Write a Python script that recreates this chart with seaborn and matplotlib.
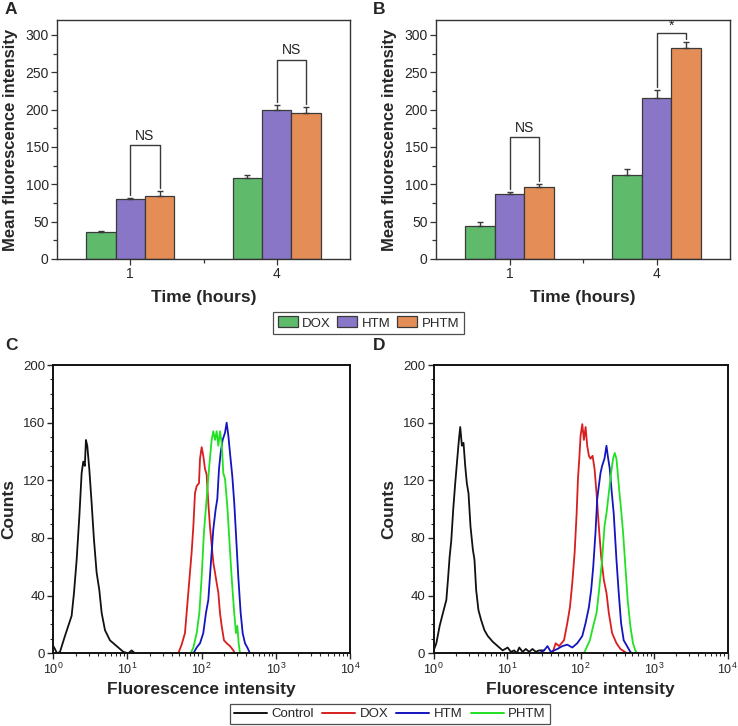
import numpy as np
import pandas as pd
import matplotlib
matplotlib.use('Agg')
import matplotlib.pyplot as plt
import seaborn as sns
from matplotlib.patches import Patch
from matplotlib.lines import Line2D
from matplotlib.ticker import MultipleLocator, FixedLocator, LogLocator, NullFormatter

# ---------------- data: bar panels ----------------
times = ['1', '4']
groups = ['DOX', 'HTM', 'PHTM']

a_dox = [36, 109]
a_htm = [80, 200]
a_phtm = [85, 195]
a_dox_err = [1.2, 4]
a_htm_err = [1.5, 6]
a_phtm_err = [6.5, 8]

b_dox = [44, 112]
b_htm = [87, 216]
b_phtm = [96, 283]
b_dox_err = [5, 9]
b_htm_err = [2.5, 10]
b_phtm_err = [4.5, 7]

a_brackets = [('HTM', '1', 'PHTM', '1', 152, 'NS'), ('HTM', '4', 'PHTM', '4', 267, 'NS')]
b_brackets = [('HTM', '1', 'PHTM', '1', 163, 'NS'), ('HTM', '4', 'PHTM', '4', 303, '*')]

# ---------------- data: histograms (log10 intensity, counts) ----------------
c_control_x = [0.0, 0.022, 0.05, 0.09, 0.157, 0.202, 0.247, 0.279, 0.315, 0.351, 0.382, 0.404, 0.425, 0.440, 0.458,
               0.485, 0.517, 0.548, 0.584, 0.620, 0.652, 0.697, 0.764, 0.854, 0.944, 1.011, 1.056, 1.101]
c_control_y = [5, 3, 0, 1, 12, 19, 26, 42, 65, 95, 125, 133, 130, 148, 144,
               128, 104, 79, 56, 44, 28, 16, 9, 5, 1, 0, 2, 0]
c_dox_x = [1.685, 1.730, 1.775, 1.820, 1.865, 1.888, 1.910, 1.933, 1.964, 1.978, 2.000, 2.022, 2.045, 2.067, 2.090,
           2.112, 2.144, 2.160, 2.180, 2.202, 2.225, 2.247, 2.270, 2.301, 2.337, 2.382, 2.427, 2.449]
c_dox_y = [0, 6, 14, 42, 70, 88, 111, 116, 118, 135, 143, 137, 128, 124, 104,
           88, 70, 62, 56, 49, 42, 28, 19, 9, 7, 5, 2, 0]
c_htm_x = [1.888, 1.933, 1.978, 2.022, 2.058, 2.090, 2.121, 2.157, 2.189, 2.211, 2.234, 2.256, 2.283, 2.315, 2.337,
           2.360, 2.382, 2.413, 2.440, 2.472, 2.494, 2.526, 2.553, 2.584, 2.616, 2.652]
c_htm_y = [0, 4, 7, 14, 28, 37, 60, 86, 100, 107, 128, 139, 148, 153, 160,
           151, 139, 123, 104, 74, 53, 28, 14, 7, 4, 0]
c_phtm_x = [1.852, 1.888, 1.933, 1.969, 2.000, 2.031, 2.067, 2.099, 2.135, 2.157, 2.180, 2.202, 2.225, 2.247, 2.270,
            2.292, 2.315, 2.346, 2.373, 2.404, 2.436, 2.463, 2.481, 2.499, 2.517]
c_phtm_y = [0, 4, 14, 28, 53, 84, 107, 128, 148, 154, 148, 154, 144, 154, 146,
            125, 121, 102, 79, 53, 30, 14, 19, 7, 0]

d_control_x = [0.0, 0.036, 0.081, 0.126, 0.172, 0.194, 0.217, 0.239, 0.266, 0.293, 0.321, 0.343, 0.361, 0.384, 0.406,
               0.429, 0.451, 0.474, 0.501, 0.533, 0.555, 0.578, 0.609, 0.646, 0.691, 0.736, 0.804, 0.871, 0.939,
               1.007, 1.050, 1.097, 1.130, 1.165, 1.210, 1.255, 1.300, 1.345, 1.390, 1.435, 1.503]
d_control_y = [2, 7, 19, 28, 37, 51, 67, 78, 100, 118, 135, 148, 157, 144, 146,
               130, 118, 111, 88, 72, 65, 44, 30, 23, 16, 12, 8, 5, 2,
               4, 1, 2, 0, 4, 1, 3, 1, 3, 1, 2, 2]
d_dox_x = [1.616, 1.661, 1.706, 1.774, 1.819, 1.855, 1.887, 1.919, 1.946, 1.964, 1.982, 2.000, 2.023, 2.045, 2.068,
           2.090, 2.113, 2.135, 2.163, 2.190, 2.217, 2.248, 2.280, 2.316, 2.352, 2.384, 2.429, 2.488, 2.542, 2.632]
d_dox_y = [0, 7, 5, 9, 21, 32, 49, 70, 97, 121, 135, 151, 159, 148, 157,
           144, 137, 135, 137, 128, 111, 88, 67, 51, 42, 28, 14, 7, 3, 0]
d_htm_x = [1.436, 1.503, 1.549, 1.594, 1.684, 1.752, 1.819, 1.887, 1.955, 2.023, 2.068, 2.113, 2.144, 2.172, 2.203,
           2.226, 2.248, 2.271, 2.293, 2.325, 2.352, 2.370, 2.397, 2.420, 2.451, 2.488, 2.519, 2.551, 2.587,
           2.632, 2.677, 2.700]
d_htm_y = [0, 2, 5, 1, 3, 5, 6, 4, 7, 12, 21, 32, 44, 60, 84,
           107, 116, 125, 130, 135, 144, 137, 128, 114, 97, 65, 42, 21, 9,
           5, 1, 0]
d_phtm_x = [2.045, 2.090, 2.126, 2.172, 2.217, 2.248, 2.293, 2.325, 2.352, 2.384, 2.415, 2.442, 2.465, 2.488, 2.506,
            2.524, 2.551, 2.578, 2.610, 2.641, 2.677, 2.713, 2.745, 2.767]
d_phtm_y = [0, 5, 9, 19, 28, 42, 65, 88, 97, 111, 125, 135, 139, 135, 125,
            114, 100, 84, 60, 37, 19, 7, 2, 0]

hist_labels = ['Control', 'DOX', 'HTM', 'PHTM']

# ---------------- styles ----------------
bar_colors = {'DOX': '#5fba6c', 'HTM': '#8a76c6', 'PHTM': '#e58d56'}
line_colors = {'Control': '#111111', 'DOX': '#d81e1e', 'HTM': '#1414c0', 'PHTM': '#22e022'}

sns.set_style('ticks')
plt.rcParams['font.family'] = ['Liberation Sans', 'DejaVu Sans']
plt.rcParams['mathtext.fontset'] = 'custom'
plt.rcParams['mathtext.rm'] = 'Liberation Sans'
plt.rcParams['xtick.direction'] = 'out'
plt.rcParams['ytick.direction'] = 'out'

fig = plt.figure(figsize=(7.38, 7.26), dpi=100)
W, H = 738.0, 726.0


def add_axes_px(left, top, right, bottom):
    return fig.add_axes([left / W, 1 - bottom / H, (right - left) / W, (bottom - top) / H])


axA = add_axes_px(57, 20, 350, 259)
axB = add_axes_px(436, 20, 730, 259)
axC = add_axes_px(53.3, 365, 350, 653.3)
axD = add_axes_px(433.7, 365, 727.5, 653.3)

edge = '#3a3a3a'


def bar_panel(ax, dox, htm, phtm, dox_e, htm_e, phtm_e, brackets):
    df = pd.DataFrame({
        'time': times * 3,
        'group': ['DOX'] * 2 + ['HTM'] * 2 + ['PHTM'] * 2,
        'value': dox + htm + phtm,
        'err': dox_e + htm_e + phtm_e,
    })
    sns.barplot(data=df, x='time', y='value', hue='group', order=times, hue_order=groups,
                palette=bar_colors, width=0.6, edgecolor=edge, linewidth=0.9,
                errorbar=None, saturation=1, legend=False, ax=ax)
    pos = {}
    bars = sorted(ax.patches, key=lambda p: p.get_x())
    keys = [(g, t) for t in times for g in groups]
    for key, p in zip(keys, bars):
        pos[key] = (p.get_x() + p.get_width() / 2, p.get_height())
    errmap = {(r.group, r.time): r.err for r in df.itertuples()}
    xs = [pos[k][0] for k in keys]
    hs = [pos[k][1] for k in keys]
    es = [errmap[k] for k in keys]
    ax.errorbar(xs, hs, yerr=[np.zeros(len(es)), es], fmt='none', ecolor=edge,
                elinewidth=1.0, capsize=2.5, capthick=1.0, zorder=3)
    for g1, t1, g2, t2, top, lab in brackets:
        x1, h1 = pos[(g1, t1)]
        x2, h2 = pos[(g2, t2)]
        y1 = h1 + errmap[(g1, t1)] + 4
        y2 = h2 + errmap[(g2, t2)] + 4
        ax.plot([x1, x1, x2, x2], [y1, top, top, y2], color=edge, lw=1.0)
        if lab == '*':
            ax.text((x1 + x2) / 2, top + 0.5, lab, ha='center', va='bottom', fontsize=10, color='#222')
        else:
            ax.text((x1 + x2) / 2, top + 3, lab, ha='center', va='bottom', fontsize=10, color='#222')
    ax.set_xlim(-0.5, 1.5)
    ax.set_ylim(0, 320)
    ax.yaxis.set_major_locator(FixedLocator([0, 50, 100, 150, 200, 250, 300]))
    ax.yaxis.set_minor_locator(FixedLocator([25, 75, 125, 175, 225, 275]))
    ax.xaxis.set_minor_locator(FixedLocator([0.5]))
    ax.tick_params(axis='both', which='major', length=4, width=0.9, labelsize=10, pad=2, color='#333')
    ax.tick_params(axis='both', which='minor', length=3, width=0.9, color='#333')
    ax.set_xlabel('Time (hours)', fontsize=12.5, fontweight='bold', labelpad=6)
    ax.set_ylabel('Mean fluorescence intensity', fontsize=12, fontweight='bold', labelpad=5)
    for s in ax.spines.values():
        s.set_visible(True)
        s.set_linewidth(1.0)
        s.set_color('#333')


bar_panel(axA, a_dox, a_htm, a_phtm, a_dox_err, a_htm_err, a_phtm_err, a_brackets)
bar_panel(axB, b_dox, b_htm, b_phtm, b_dox_err, b_htm_err, b_phtm_err, b_brackets)


def hist_panel(ax, curves):
    ax.set_xscale('log')
    for lab, (lx, cy) in zip(hist_labels, curves):
        sns.lineplot(x=10 ** np.array(lx), y=np.array(cy), color=line_colors[lab], lw=1.3,
                     estimator=None, sort=False, ax=ax)
    ax.set_xlim(1, 1e4)
    ax.set_ylim(0, 200)
    ax.yaxis.set_major_locator(FixedLocator([0, 40, 80, 120, 160, 200]))
    ax.yaxis.set_minor_locator(MultipleLocator(10))
    ax.xaxis.set_major_locator(LogLocator(base=10, numticks=10))
    ax.xaxis.set_minor_locator(LogLocator(base=10, subs=np.arange(2, 10), numticks=20))
    ax.xaxis.set_minor_formatter(NullFormatter())
    ax.tick_params(axis='both', which='major', length=4, width=1.0, labelsize=9.5, pad=2)
    ax.tick_params(axis='x', which='major', labelsize=9)
    ax.tick_params(axis='both', which='minor', length=2.5, width=0.8)
    ax.set_xlabel('Fluorescence intensity', fontsize=12.5, fontweight='bold', labelpad=4)
    ax.set_ylabel('Counts', fontsize=12.5, fontweight='bold', labelpad=5)
    for s in ax.spines.values():
        s.set_visible(True)
        s.set_linewidth(1.4)
        s.set_color('#111')


hist_panel(axC, [(c_control_x, c_control_y), (c_dox_x, c_dox_y), (c_htm_x, c_htm_y), (c_phtm_x, c_phtm_y)])
hist_panel(axD, [(d_control_x, d_control_y), (d_dox_x, d_dox_y), (d_htm_x, d_htm_y), (d_phtm_x, d_phtm_y)])

# panel letters
for lab, x, y in [('A', 5, 2), ('B', 373, 2), ('C', 5, 338), ('D', 373, 338)]:
    fig.text(x / W, 1 - y / H, lab, fontsize=12.5, fontweight='bold', ha='left', va='top')

# legends
bar_handles = [Patch(facecolor=bar_colors[g], edgecolor=edge, linewidth=0.9) for g in groups]
leg1 = fig.legend(bar_handles, groups, loc='center', bbox_to_anchor=(368.5 / W, 1 - 323 / H), ncol=3,
                  frameon=True, fancybox=False, edgecolor='#222', fontsize=9.5,
                  handlelength=1.5, handleheight=0.9, columnspacing=0.5, handletextpad=0.35,
                  borderpad=0.35, borderaxespad=0)
leg1.get_frame().set_linewidth(0.9)

line_handles = [Line2D([0], [0], color=line_colors[l], lw=1.4) for l in hist_labels]
leg2 = fig.legend(line_handles, hist_labels, loc='center', bbox_to_anchor=(390 / W, 1 - 714 / H), ncol=4,
                  frameon=True, fancybox=False, edgecolor='#222', fontsize=9.5,
                  handlelength=2.5, columnspacing=0.6, handletextpad=0.35, borderpad=0.3, borderaxespad=0)
leg2.get_frame().set_linewidth(0.9)

fig.savefig('out.png', dpi=100)
